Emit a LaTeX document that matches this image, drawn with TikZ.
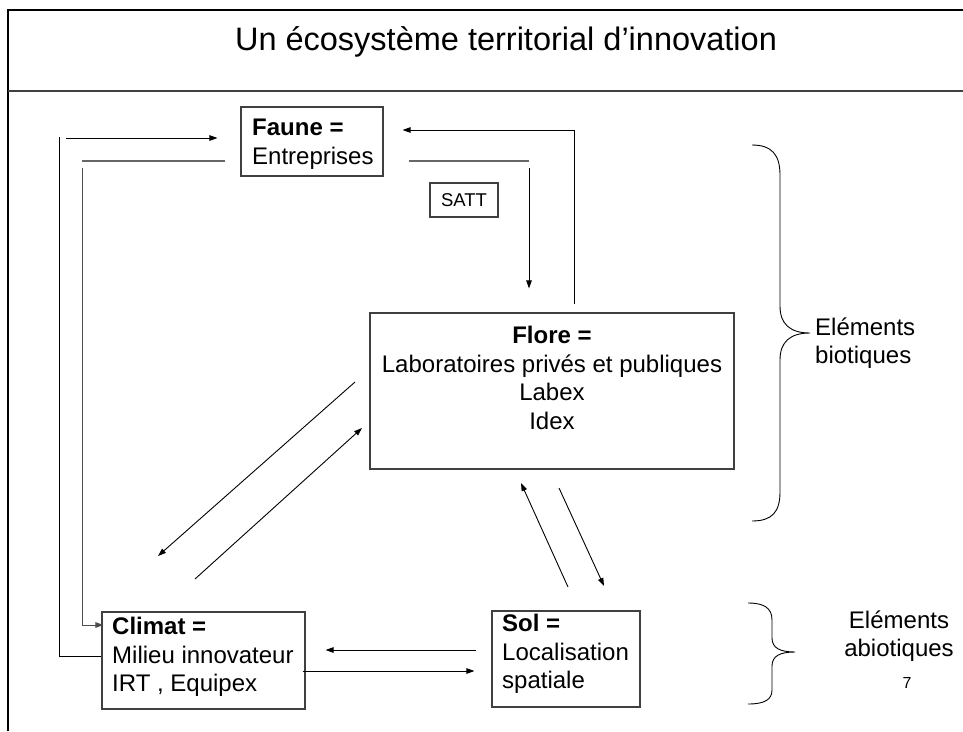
\documentclass[tikz,border=0pt]{standalone}
\usepackage{fontspec}
\setmainfont{Liberation Sans}
\usetikzlibrary{arrows.meta,calc}
\begin{document}
\begin{tikzpicture}[x=1pt,y=-1pt,
  box/.style={draw=black!75, line width=1.1pt, inner sep=0pt},
  conn/.style={line width=0.9pt},
  arr/.style={conn, -{Triangle[length=8pt,width=5.5pt]}},
  greyline/.style={line width=1.1pt, draw=black!60},
  body/.style={font=\fontsize{24}{28.5}\selectfont, inner sep=0pt},
  brace/.style={line width=0.9pt},
]
\useasboundingbox (0,0) rectangle (963,731);

% slide frame and title band
\draw[line width=2pt] (8,731) -- (8,10) -- (963,10);
\draw[line width=1.6pt, black!75] (8,91) -- (963,91);
\node[font=\fontsize{32.5}{38}\selectfont, inner sep=0pt] (title) at (506,42) {Un écosystème territorial d’innovation};

% boxes
\node[box, minimum width=142pt, minimum height=69pt] (faune) at (312,141.5) {};
\node[box, minimum width=68pt, minimum height=34pt] (satt) at (464,200) {};
\node[box, minimum width=364pt, minimum height=156pt] (flore) at (552,391) {};
\node[box, minimum width=203pt, minimum height=97pt] (climat) at (203.5,660.5) {};
\node[box, minimum width=148pt, minimum height=96pt] (sol) at (566,659) {};

% box texts
\node[body, anchor=north west, align=left] (fauneT) at (252,119) {\textbf{Faune =}\\Entreprises};
\node[font=\fontsize{18.5}{22}\selectfont, inner sep=0pt] (sattT) at (satt.center) {SATT};
\node[body, anchor=north, align=center] (floreT) at (552,326) {\textbf{Flore =}\\Laboratoires privés et publiques\\Labex\\Idex};
\node[body, anchor=north west, align=left] (climatT) at (112,617) {\textbf{Climat =}\\Milieu innovateur\\IRT , Equipex};
\node[body, anchor=north west, align=left] (solT) at (502,614) {\textbf{Sol =}\\Localisation\\spatiale};

% Climat -> Faune, around the left side
\draw[conn] (climat.west |- 0,656) -- ++(-5,0) -| (59,137);
\draw[arr, shorten >=23pt] (66,138) -- (faune.west |- 0,138);
% Faune -> Climat, inner left route
\draw[greyline] (faune.west |- 0,161) ++(-15,0) -- (82,161);
\draw[arr, draw=black!70] (82,168) |- ([xshift=2pt]climat.west |- 0,625);

% Faune -> Flore, right side
\draw[greyline] ([xshift=25pt]faune.east |- 0,161) -- (529,161);
\draw[arr] (529,168) -- ([yshift=24pt]flore.north -| 529,0);
% Flore -> Faune
\draw[arr] (flore.north -| 574,0) ++(0,-8) |- ([xshift=19pt]faune.east |- 0,130);

% Flore <-> Climat diagonals
\coordinate (fc1) at (355,382);
\coordinate (fc2) at (158,556);
\coordinate (cf1) at (195,579);
\coordinate (cf2) at (362,428);
\draw[arr] (fc1) -- (fc2);
\draw[arr] (cf1) -- (cf2);

% Flore <-> Sol diagonals
\coordinate (sf1) at (568,587);
\coordinate (sf2) at (521,483);
\coordinate (fs1) at (559,488);
\coordinate (fs2) at (604,586);
\draw[arr] (sf1) -- (sf2);
\draw[arr] (fs1) -- (fs2);

% Climat <-> Sol
\draw[arr] ([xshift=-15pt]sol.west |- 0,650) -- ([xshift=20pt]climat.east |- 0,650);
\draw[arr] ([xshift=-3pt]climat.east |- 0,671) -- ([xshift=-17pt]sol.west |- 0,671);

% braces
\draw[brace] (752,145) .. controls (772,145) and (780,155) .. (780,175)
  -- (780,306) .. controls (780,324) and (790,333) .. (810,333)
  .. controls (790,333) and (780,342) .. (780,360)
  -- (780,492) .. controls (780,512) and (772,521) .. (752,521);
\draw[brace] (748,603) .. controls (764,603) and (772,608) .. (772,620)
  -- (772,638) .. controls (772,648) and (780,652) .. (795,652)
  .. controls (780,652) and (772,656) .. (772,666)
  -- (772,690) .. controls (772,700) and (764,704) .. (748,704);

% side labels
\node[body, anchor=west, align=left] (bio) at (815,343) {Eléments\\biotiques};
\node[body, align=center] (abio) at (899,636) {Eléments\\abiotiques};
\node[font=\fontsize{16}{19}\selectfont, inner sep=0pt] (pagenum) at (907,683) {7};
\end{tikzpicture}
\end{document}
